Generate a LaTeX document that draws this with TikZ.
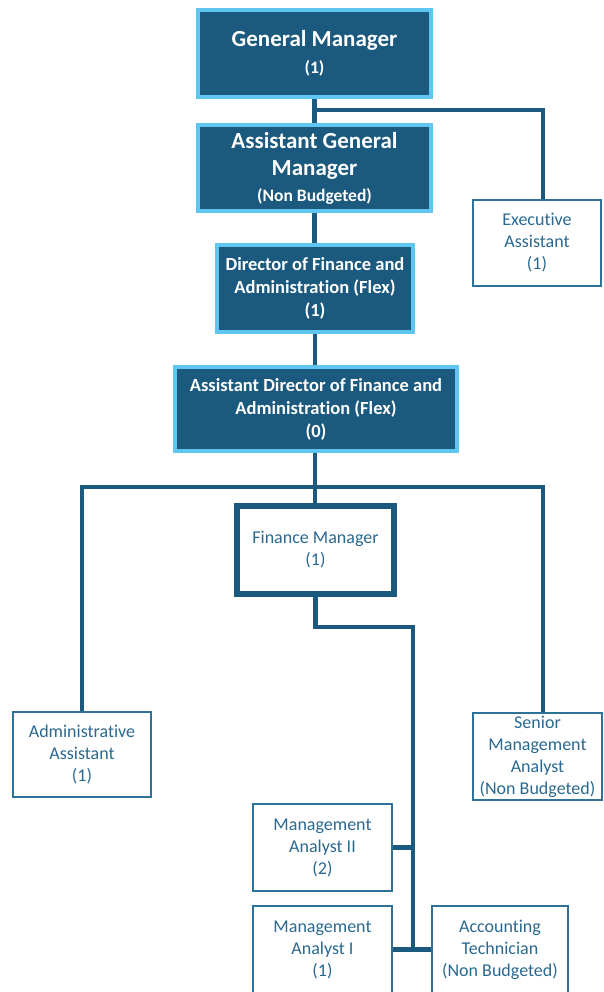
\documentclass[tikz,border=0pt]{standalone}
\usepackage{fontspec}
\setmainfont{Carlito}[Ligatures=NoCommon]
\definecolor{darkb}{HTML}{1B5A7E}
\definecolor{lightb}{HTML}{5EC6F0}
\definecolor{txtb}{HTML}{2A6990}
\definecolor{thinb}{HTML}{2F7298}
\begin{document}
\begin{tikzpicture}[x=1pt,y=-1pt,
  conn/.style={draw=darkb, line width=4.5pt},
  topbox/.style={draw=lightb, line width=4pt, fill=darkb, text=white, align=center, inner sep=0pt, font=\bfseries},
  bigtop/.style={topbox, font=\bfseries\fontsize{23}{27.5}\selectfont},
  fmbox/.style={draw=darkb, line width=6pt, fill=white, text=txtb, align=center, inner sep=0pt, font=\fontsize{18}{22}\selectfont},
  wbox/.style={draw=thinb, line width=1.5pt, fill=white, text=txtb, align=center, inner sep=0pt, font=\fontsize{18}{22}\selectfont}]
\useasboundingbox (0,0) rectangle (603,992);

\node[bigtop, minimum width=233pt, minimum height=87pt] (gm) at (314.5,53.5)
  {General Manager\\{\fontsize{17.5}{22}\selectfont (1)}};
\node[bigtop, minimum width=233pt, minimum height=86pt] (agm) at (314.5,168)
  {Assistant General\\Manager\\[-2pt]{\fontsize{17.5}{22}\selectfont (Non Budgeted)}};
\node[topbox, font=\bfseries\fontsize{18.5}{23}\selectfont, minimum width=196pt, minimum height=87pt] (dir) at (315,288.5)
  {Director of Finance and\\Administration (Flex)\\(1)};
\node[topbox, font=\bfseries\fontsize{18.5}{23}\selectfont, minimum width=282pt, minimum height=84pt] (adir) at (316,409)
  {Assistant Director of Finance and\\Administration (Flex)\\(0)};
\node[wbox, minimum width=128pt, minimum height=86pt] (ea) at (537,243) {Executive\\Assistant\\(1)};
\node[fmbox, minimum width=157pt, minimum height=88pt] (fm) at (315.5,550) {Finance Manager\\(1)};
\node[wbox, minimum width=138pt, minimum height=85pt] (aa) at (82,754.5) {Administrative\\Assistant\\(1)};
\node[wbox, minimum width=129pt, minimum height=87pt] (sma) at (537.5,756.5) {Senior\\Management\\Analyst\\(Non Budgeted)};
\node[wbox, minimum width=139pt, minimum height=87pt] (ma2) at (322.5,847.5) {Management\\Analyst II\\(2)};
\node[wbox, minimum width=139pt, minimum height=87pt] (ma1) at (322.5,949.5) {Management\\Analyst I\\(1)};
\node[wbox, minimum width=136pt, minimum height=87pt] (at) at (500,949.5) {Accounting\\Technician\\(Non Budgeted)};

\coordinate (j1) at (315,110);
\coordinate (j2) at (315,487);
\coordinate (j3) at (413,627);

\draw[conn] (gm.south) -- (agm.north);
\draw[conn] (j1) -| ([xshift=6pt]ea.north);
\draw[conn] (agm.south) -- (agm.south |- dir.north);
\draw[conn] (j2 |- dir.south) -- (j2 |- adir.north);
\draw[conn] (j2 |- adir.south) -- (j2 |- fm.north);
\draw[conn] (aa.north) |- (j2) -| ([xshift=5.5pt]sma.north);
\draw[conn] (fm.south) |- (j3) |- (ma1.east);
\draw[conn] (ma2.east) -- (ma2.east -| j3);
\draw[conn] (ma1.east) -- (at.west);
\end{tikzpicture}
\end{document}
